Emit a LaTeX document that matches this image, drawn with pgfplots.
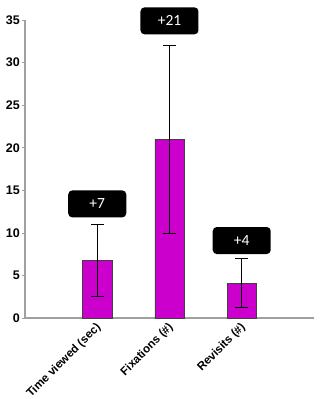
\documentclass[border=0pt]{standalone}
\usepackage{fontspec}
\setmainfont{Liberation Sans}
\newfontfamily\calibri{Carlito}
\usepackage{pgfplots}
\pgfplotsset{compat=1.18}
\definecolor{barmag}{RGB}{204,0,204}
\definecolor{axgray}{RGB}{160,160,160}
\begin{document}
\begin{tikzpicture}
\begin{axis}[
  scale only axis, width=289pt, height=298pt,
  xmin=-1, xmax=3, ymin=0, ymax=35,
  axis lines=left,
  axis line style={draw=axgray, line width=1.2pt, -},
  ytick={0,5,...,35},
  xtick={0,1,2},
  xticklabels={Time viewed (sec),Fixations (\#),Revisits (\#)},
  xticklabel style={rotate=45, anchor=north east, font=\bfseries\fontsize{11.6}{13}\selectfont, inner sep=1pt, yshift=2pt, xshift=-1pt},
  yticklabel style={font=\bfseries\fontsize{12.5}{14}\selectfont, inner sep=2pt},
  /pgf/number format/assume math mode=true,
  x tick style={draw=none},
  y tick style={draw=axgray, line width=0.6pt},
  tick align=outside, major tick length=3pt,
  ybar, bar width=29pt,
  clip=false,
]
\addplot[fill=barmag, draw=black!75, line width=0.5pt,
  error bars/.cd, y dir=both, y explicit,
  error bar style={black, line width=0.6pt},
  error mark options={rotate=90, mark size=6.5pt, black, line width=0.6pt}]
  coordinates {
    (0,6.8) += (0,4.2) -= (0,4.2)
    (1,21) += (0,11) -= (0,11)
    (2,4.1) += (0,2.9) -= (0,2.8)
  };
\node[fill=black, rounded corners=4pt, text=white, minimum width=58pt, minimum height=27pt, font=\calibri\fontsize{15.5}{17}\selectfont] at (axis cs:0,13.4) {+7};
\node[fill=black, rounded corners=4pt, text=white, minimum width=58pt, minimum height=27pt, font=\calibri\fontsize{15.5}{17}\selectfont] at (axis cs:1,34.9) {+21};
\node[fill=black, rounded corners=4pt, text=white, minimum width=58pt, minimum height=27pt, font=\calibri\fontsize{15.5}{17}\selectfont] at (axis cs:2,9.1) {+4};
\end{axis}
\pgfresetboundingbox
\path (current axis.south west) ++(-25pt,-81pt) rectangle ++(320pt,399pt);
\end{tikzpicture}
\end{document}
